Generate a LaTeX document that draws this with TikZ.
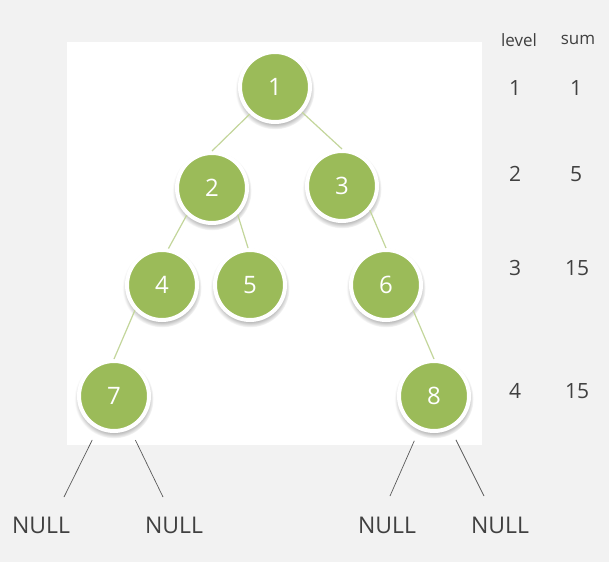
\documentclass[tikz,border=0pt]{standalone}
\usepackage{fontspec}
\setmainfont{Open Sans}
\usetikzlibrary{positioning,shadows}
\definecolor{treegreen}{HTML}{9BBB59}
\definecolor{linkgreen}{HTML}{C3D69B}
\definecolor{backgray}{HTML}{F2F2F2}
\definecolor{textgray}{HTML}{404040}
\tikzset{
    treenode/.style={
    circle,fill=treegreen,draw=white,line width=4pt,minimum size=70pt,
    text=white,font=\fontsize{24}{28}\selectfont,
    circular drop shadow={shadow xshift=0pt,shadow yshift=-2.5pt,shadow scale=1.13,opacity=0.55}
    },
    link/.style={
    draw=linkgreen,line width=1.2pt
    },
    nullline/.style={
    draw=black!65,line width=0.7pt,shorten <=12pt
    },
    nulltext/.style={
    text=textgray,font=\fontsize{23}{27}\selectfont
    },
    infotext/.style={
    text=textgray,font=\fontsize{21}{25}\selectfont
    },
    headtext/.style={
    text=textgray,font=\fontsize{17}{20}\selectfont
    },
}
\begin{document}
\begin{tikzpicture}[x=1pt, y=-1pt, on grid]
   \useasboundingbox[fill=backgray] (0,0) rectangle (609,562);
   \fill[white] (67,42) rectangle (482,445);
   %level 1
   \node[treenode] (n1) at (275,87) {1};
   %level 2
   \node[treenode] (n2) [below left = 101pt and 63pt of n1] {2};
   \node[treenode] (n3) [below right = 99pt and 67pt of n1] {3};
   %level 3
   \node[treenode] (n4) [below left = 97pt and 50pt of n2] {4};
   \node[treenode] (n5) [below right = 97pt and 38pt of n2] {5};
   \node[treenode] (n6) [below right = 99pt and 44pt of n3] {6};
   %level 4
   \node[treenode] (n7) [below left = 111pt and 48pt of n4] {7};
   \node[treenode] (n8) [below right = 111pt and 48pt of n6] {8};
   %null leaves
   \coordinate (n7a) at (64,497);
   \coordinate (n7b) at (163,497);
   \coordinate (n8a) at (390,496);
   \coordinate (n8b) at (484,496);
   \node[nulltext] (null7a) at (41,525) {NULL};
   \node[nulltext] (null7b) at (174,525) {NULL};
   \node[nulltext] (null8a) at (387,525) {NULL};
   \node[nulltext] (null8b) at (500,525) {NULL};
   %table
   \node[headtext] (level) at (519,40) {level};
   \node[headtext] (sum) at (578,40) {sum};
   \node[infotext] (lv1) at (515,88) {1};
   \node[infotext] (sm1) at (576,88) {1};
   \node[infotext] (lv2) at (515,174) {2};
   \node[infotext] (sm2) at (576,174) {5};
   \node[infotext] (lv3) at (515,268) {3};
   \node[infotext] (sm3) at (577,268) {15};
   \node[infotext] (lv4) at (515,391) {4};
   \node[infotext] (sm4) at (577,391) {15};

   \path[link]
    (n1.227) edge (n2.north)
    (n1.-43) edge (n3.north)
    (n2.227) edge (n4.80)
    (n2.-46) edge (n5.93)
    (n3.-41) edge (n6.north)
    (n4.223) edge (n7.north)
    (n6.-43) edge (n8.north)
   ;
   \path[nullline]
    (n7) edge (n7a)
    (n7) edge (n7b)
    (n8) edge (n8a)
    (n8) edge (n8b)
   ;
\end{tikzpicture}
\end{document}
